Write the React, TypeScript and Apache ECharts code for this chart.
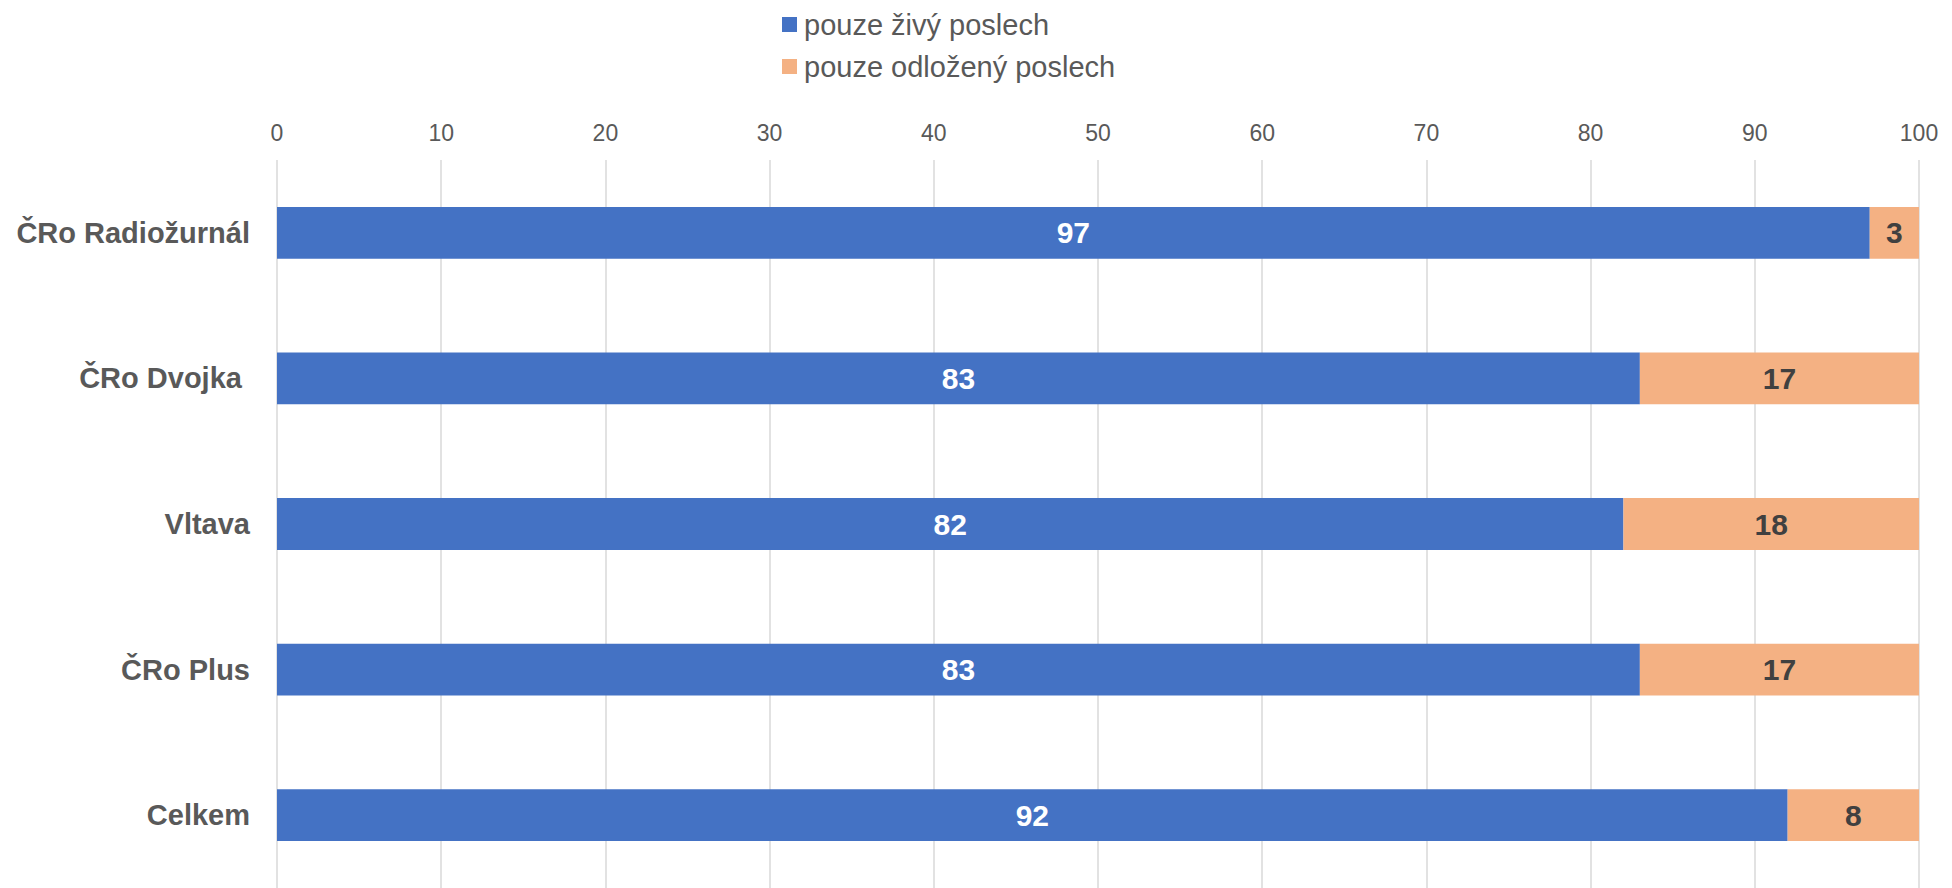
import React, { useEffect, useRef } from "react";
import * as echarts from "echarts";

const categories = ["ČRo Radiožurnál", "ČRo Dvojka ", "Vltava", "ČRo Plus", "Celkem"];
const liveOnly = [97, 83, 82, 83, 92];
const delayedOnly = [3, 17, 18, 17, 8];
const seriesNames = ["pouze živý poslech", "pouze odložený poslech"];

export default function App() {
  const ref = useRef<HTMLDivElement>(null);
  useEffect(() => {
    if (!ref.current) return;
    const chart = echarts.init(ref.current, undefined, { renderer: "svg" });
    const font = "'Liberation Sans', Arial, sans-serif";
    chart.setOption({
      animation: false,
      textStyle: { fontFamily: font },
      legend: {
        orient: "vertical",
        left: 777,
        top: 5,
        itemWidth: 15,
        itemHeight: 15,
        itemGap: 13,
        icon: "rect",
        textStyle: { fontSize: 29, color: "#595959", fontFamily: font, padding: [0, 0, 0, 2] },
        data: seriesNames,
      },
      grid: { left: 277, right: 33, top: 160, bottom: -2, containLabel: false },
      xAxis: {
        type: "value",
        position: "top",
        min: 0,
        max: 100,
        interval: 10,
        axisLine: { show: false },
        axisTick: { show: false },
        axisLabel: { fontSize: 23, color: "#595959", margin: 16, fontFamily: font },
        splitLine: { show: true, lineStyle: { color: "#d9d9d9", width: 1.5 } },
      },
      yAxis: {
        type: "category",
        inverse: true,
        data: categories,
        axisLine: { show: false },
        axisTick: { show: false },
        axisLabel: {
          fontSize: 29,
          fontWeight: "bold",
          color: "#595959",
          margin: 27,
          fontFamily: font,
        },
      },
      series: [
        {
          name: seriesNames[0],
          type: "bar",
          stack: "total",
          data: liveOnly,
          barWidth: "35.6%",
          itemStyle: { color: "#4472C4" },
          label: {
            show: true,
            position: "inside",
            color: "#ffffff",
            fontSize: 30,
            fontWeight: "bold",
            fontFamily: font,
          },
        },
        {
          name: seriesNames[1],
          type: "bar",
          stack: "total",
          data: delayedOnly,
          barWidth: "35.6%",
          itemStyle: { color: "#F4B183" },
          label: {
            show: true,
            position: "inside",
            color: "#404040",
            fontSize: 30,
            fontWeight: "bold",
            fontFamily: font,
          },
        },
      ],
    });
    return () => chart.dispose();
  }, []);
  return (
    <div
      ref={ref}
      style={{ position: "fixed", left: 0, top: 0, width: 1952, height: 888, background: "#fff" }}
    />
  );
}
